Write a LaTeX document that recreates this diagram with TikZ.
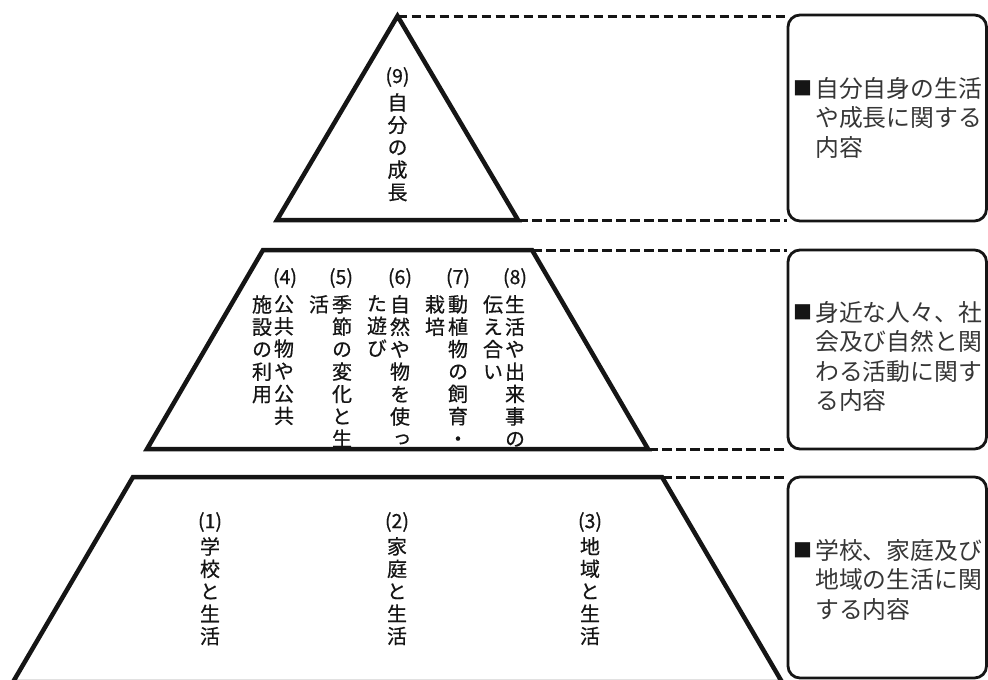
\documentclass[tikz,border=0pt]{standalone}
\usepackage{fontspec}
\newfontfamily\jp{Noto Sans CJK JP}
\newfontfamily\jpb[FakeBold=0.6]{Noto Sans CJK JP}
\newfontfamily\vjp[RawFeature=+vert,FakeBold=0.6]{Noto Sans CJK JP}
\definecolor{ink}{HTML}{151515}
\definecolor{boxtext}{HTML}{363636}
\begin{document}
\begin{tikzpicture}[x=1pt,y=-1pt,
  pyr/.style={line width=4.5pt, draw=ink, fill=white, line join=miter},
  guide/.style={line width=3pt, draw=ink, dash pattern=on 9.5pt off 4.5pt},
  infobox/.style={draw=ink, line width=2.8pt, rounded corners=12pt, fill=white, inner sep=0pt},
  vcol/.style={font=\vjp\fontsize{20}{22.4}\selectfont, align=center, inner sep=0pt, anchor=north, text=ink},
  num/.style={font=\jpb\fontsize{19.5}{19.5}\selectfont, inner sep=0pt, text=ink},
  desc/.style={font=\jp\fontsize{23.8}{29.5}\selectfont, align=left, inner sep=0pt, anchor=north west, text=boxtext},
  sqmark/.style={font=\jp\fontsize{19}{19}\selectfont, inner sep=0pt, text=ink},
]
\useasboundingbox (0,0) rectangle (988,680);
\fill[white] (0,0) rectangle (988,680);

% pyramid vertices
\coordinate (T) at (397.5,16);
\coordinate (TL) at (277,220);
\coordinate (TR) at (518,220);
\coordinate (ML) at (263,250);
\coordinate (MR) at (532,250);
\coordinate (MBR) at (648,449);
\coordinate (MBL) at (147,449);
\coordinate (BTL) at (133,477);
\coordinate (BTR) at (662,477);
\coordinate (BBR) at (782,682);
\coordinate (BBL) at (13,682);

% boxes
\node[infobox, minimum width=198.5pt, minimum height=206pt] (b1) at (887.25,118) {};
\node[infobox, minimum width=198.5pt, minimum height=199pt] (b2) at (887.25,349.5) {};
\node[infobox, minimum width=198.5pt, minimum height=201pt] (b3) at (887.25,577.5) {};

% dashed guides
\draw[guide] (T) -- (T -| b1.west);
\draw[guide] (TR) -- (TR -| b1.west);
\draw[guide] (MR) -- (MR -| b2.west);
\draw[guide] (MBR) -- (MBR -| b2.west);
\draw[guide] (BTR) -- (BTR -| b3.west);

% pyramid
\draw[pyr] (T) -- (TR) -- (TL) -- cycle;
\draw[pyr] (ML) -- (MR) -- (MBR) -- (MBL) -- cycle;
\draw[pyr] (BTL) -- (BTR) -- (BBR) -- (BBL) -- cycle;

% top
\node[num] (n9) at (397.5,77) {(9)};
\node[vcol] (c9) at (397.5,93) {自\\分\\の\\成\\長};

% middle
\node[num] (n4) at (285,278) {(4)};
\node[vcol] (c4a) at (284,295) {公\\共\\物\\や\\公\\共};
\node[vcol] (c4b) at (262,295) {施\\設\\の\\利\\用};
\node[num] (n5) at (341,278) {(5)};
\node[vcol] (c5a) at (342,295) {季\\節\\の\\変\\化\\と\\生};
\node[vcol] (c5b) at (319,295) {活};
\node[num] (n6) at (400,278) {(6)};
\node[vcol] (c6a) at (400,295) {自\\然\\や\\物\\を\\使\\っ};
\node[vcol] (c6b) at (377,295) {た\\遊\\び};
\node[num] (n7) at (458,278) {(7)};
\node[vcol] (c7a) at (458,295) {動\\植\\物\\の\\飼\\育\\・};
\node[vcol] (c7b) at (435,295) {栽\\培};
\node[num] (n8) at (515,278) {(8)};
\node[vcol] (c8a) at (515,295) {生\\活\\や\\出\\来\\事\\の};
\node[vcol] (c8b) at (493,295) {伝\\え\\合\\い};

% bottom
\node[num] (n1) at (210,522) {(1)};
\node[vcol] (c1) at (210,537) {学\\校\\と\\生\\活};
\node[num] (n2) at (397,522) {(2)};
\node[vcol] (c2) at (397,537) {家\\庭\\と\\生\\活};
\node[num] (n3) at (590,522) {(3)};
\node[vcol] (c3) at (590,537) {地\\域\\と\\生\\活};

% box texts
\node[sqmark] (s1) at (803,88) {■};
\node[desc] (d1) at (815,77) {自分自身の生活\\や成長に関する\\内容};
\node[sqmark] (s2) at (803,312) {■};
\node[desc] (d2) at (815,301) {身近な人々、社\\会及び自然と関\\わる活動に関す\\る内容};
\node[sqmark] (s3) at (803,550) {■};
\node[desc] (d3) at (815,539) {学校、家庭及び\\地域の生活に関\\する内容};
\end{tikzpicture}
\end{document}
